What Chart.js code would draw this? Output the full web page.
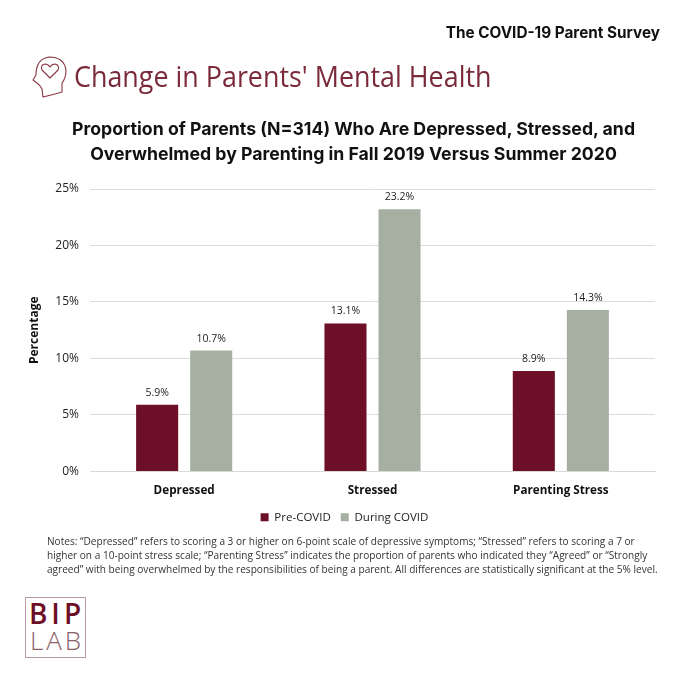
<!DOCTYPE html>
<html>
<head>
<meta charset="utf-8">
<title>Change in Parents' Mental Health</title>
<script src="https://cdn.jsdelivr.net/npm/chart.js@4"></script>
<style>
  html, body { margin: 0; padding: 0; background: #fff; }
  #page { position: relative; width: 680px; height: 680px; overflow: hidden; }
  #page div { position: absolute; white-space: nowrap; }
  #chart { position: absolute; left: 0; top: 0; }
  #survey { right: 20px; top: 23px; font: 700 15.3px Inter, sans-serif; color: #111; }
  #heading { left: 74px; top: 56px; font: 400 29px "Open Sans", sans-serif; color: #7a2a3a; transform: scaleX(0.927); transform-origin: left; }
  #title { left: 0; width: 707px; top: 117px; text-align: center; font: 700 17.7px/24.5px Inter, sans-serif; color: #111; }
  #notes { left: 47px; top: 534px; font: 400 11px/14px "Open Sans", sans-serif; color: #333; transform: scaleX(0.917); transform-origin: left; }
  #logo { left: 25px; top: 597px; width: 59px; height: 59px; border: 1px solid #b99aa2; }
  #logo div { left: 0; width: 62px; text-align: center; font-family: "Open Sans", sans-serif; }
  #bip { top: -4px; font-size: 28px; font-weight: 600; letter-spacing: 4px; color: #6d0f26; }
  #lab { top: 24px; font-size: 26px; font-weight: 300; letter-spacing: 3px; color: #8a5f6b; }
  #icon { position: absolute; left: 31px; top: 56px; }
</style>
</head>
<body>
<div id="page">
  <canvas id="chart" width="680" height="539"></canvas>
  <div id="survey">The COVID-19 Parent Survey</div>
  <svg id="icon" width="37" height="42" viewBox="0 0 37 42" fill="none" stroke="#8a3545" stroke-width="1.1" stroke-linejoin="round">
    <path d="M12 41 L11 33 Q9 29 6 27 L2 24 L5 19 Q5 3 18 1 Q33 1 35 14 Q35 22 31 27 L31 36 L24 38 Z"/>
    <path d="M19 22 L11 14 Q9 9 14 8 Q17 8 19 11 Q21 8 24 8 Q29 9 27 14 Z"/>
  </svg>
  <div id="heading">Change in Parents' Mental Health</div>
  <div id="title">Proportion of Parents (N=314) Who Are Depressed, Stressed, and<br>Overwhelmed by Parenting in Fall 2019 Versus Summer 2020</div>
  <div id="notes">Notes: “Depressed” refers to scoring a 3 or higher on 6-point scale of depressive symptoms; “Stressed” refers to scoring a 7 or<br>higher on a 10-point stress scale; “Parenting Stress” indicates the proportion of parents who indicated they “Agreed” or “Strongly<br>agreed” with being overwhelmed by the responsibilities of being a parent. All differences are statistically significant at the 5% level.</div>
  <div id="logo"><div id="bip">BIP</div><div id="lab">LAB</div></div>
</div>
<script>
const categories = ["Depressed", "Stressed", "Parenting Stress"];
const preCovid = [5.9, 13.1, 8.9];
const duringCovid = [10.7, 23.2, 14.3];

// value labels above each bar
const barLabels = {
    id: 'barLabels',
    afterDatasetsDraw(chart) {
        const ctx = chart.ctx;
        ctx.save();
        ctx.font = "400 10.5px 'Open Sans', sans-serif";
        ctx.fillStyle = '#222';
        ctx.textAlign = 'center';
        ctx.textBaseline = 'alphabetic';
        chart.data.datasets.forEach((ds, i) => {
            chart.getDatasetMeta(i).data.forEach((bar, j) => {
                ctx.fillText(ds.data[j].toFixed(1) + '%', bar.x, bar.y - 9);
            });
        });
        ctx.restore();
    }
};

new Chart(document.getElementById('chart'), {
    type: 'bar',
    data: {
        labels: categories,
        datasets: [
            {label: 'Pre-COVID', data: preCovid, backgroundColor: '#6d0f26',
                categoryPercentage: 0.574, barPercentage: 0.778},
            {label: 'During COVID', data: duringCovid, backgroundColor: '#a5b0a3',
                categoryPercentage: 0.574, barPercentage: 0.778}
        ]
    },
    plugins: [barLabels],
    options: {
        responsive: false,
        animation: false,
        layout: {padding: {top: 189, right: 25, left: 34, bottom: 6}},
        plugins: {
            title: {display: false},
            tooltip: {enabled: false},
            legend: {
                position: 'bottom',
                labels: {
                    boxWidth: 8, boxHeight: 8, padding: 10,
                    color: '#222',
                    font: {family: "'Open Sans', sans-serif", size: 11.5}
                }
            }
        },
        scales: {
            x: {
                grid: {display: false},
                border: {color: '#d9d9d9'},
                ticks: {
                    color: '#111', padding: 4,
                    font: {family: "'Open Sans', sans-serif", size: 11.7, weight: '700'}
                }
            },
            y: {
                min: 0,
                max: 25,
                afterFit(axis) { axis.width = 56; },
                grid: {color: '#dcdcdc', drawTicks: false},
                border: {display: false},
                title: {
                    display: true, text: 'Percentage', color: '#111', padding: {top: -7, bottom: 0},
                    font: {family: "'Open Sans', sans-serif", size: 12, weight: '700'}
                },
                ticks: {
                    stepSize: 5, padding: 11, color: '#222',
                    font: {family: "'Open Sans', sans-serif", size: 12},
                    callback: v => v + '%'
                }
            }
        }
    }
});
</script>
</body>
</html>
